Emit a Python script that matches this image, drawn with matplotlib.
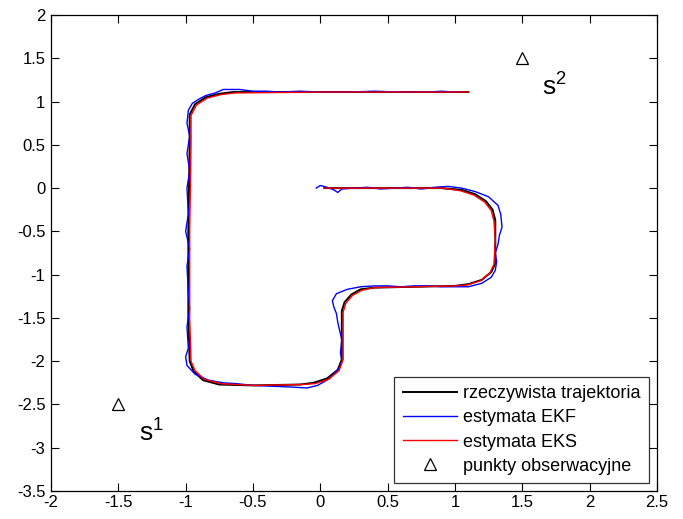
import matplotlib
matplotlib.use("Agg")
import matplotlib.pyplot as plt

plt.rcParams['font.family'] = ['Liberation Sans', 'DejaVu Sans']

# true trajectory waypoints
true_x = [0.03, 0.5, 0.9, 1.05, 1.15, 1.23, 1.28, 1.30, 1.30, 1.30, 1.27, 1.20, 1.10, 1.00, 0.70, 0.40,
          0.30, 0.23, 0.18, 0.16, 0.16, 0.16, 0.13, 0.05, -0.05, -0.15, -0.50, -0.75, -0.87, -0.94,
          -0.97, -0.98, -0.98, -0.97, -0.97, -0.93, -0.85, -0.75, -0.65, 0.0, 1.10]
true_y = [0.0, 0.0, 0.0, -0.02, -0.07, -0.15, -0.25, -0.37, -0.60, -0.87, -0.97, -1.06, -1.11, -1.13,
          -1.14, -1.15, -1.17, -1.23, -1.32, -1.42, -1.70, -1.98, -2.10, -2.20, -2.25, -2.27, -2.28,
          -2.27, -2.22, -2.12, -2.00, -1.50, -0.50, 0.50, 0.85, 0.97, 1.05, 1.09, 1.11, 1.11, 1.11]

# EKS estimate
eks_x = [0.03, 0.5, 0.9, 1.04, 1.14, 1.22, 1.27, 1.29, 1.30, 1.29, 1.26, 1.19, 1.09, 1.00, 0.70, 0.40,
         0.31, 0.24, 0.19, 0.17, 0.17, 0.17, 0.14, 0.06, -0.04, -0.15, -0.50, -0.74, -0.86, -0.93,
         -0.96, -0.97, -0.97, -0.96, -0.96, -0.92, -0.84, -0.74, -0.64, 0.0, 1.10]
eks_y = [0.0, 0.0, 0.0, -0.03, -0.08, -0.16, -0.26, -0.38, -0.60, -0.88, -0.98, -1.07, -1.12, -1.13,
         -1.14, -1.15, -1.18, -1.24, -1.33, -1.43, -1.70, -1.98, -2.11, -2.21, -2.26, -2.27, -2.28,
         -2.26, -2.21, -2.11, -2.00, -1.50, -0.50, 0.50, 0.84, 0.96, 1.04, 1.08, 1.10, 1.11, 1.11]

# EKF estimate
ekf_x = [-0.03, 0.00, 0.05, 0.10, 0.13, 0.16, 0.25, 0.35, 0.45, 0.55, 0.65, 0.75, 0.85, 0.95, 1.05,
         1.15, 1.25, 1.32, 1.34, 1.35, 1.33, 1.32, 1.30, 1.31, 1.30, 1.27, 1.20, 1.10, 1.00, 0.90,
         0.80, 0.70, 0.60, 0.50, 0.40, 0.30, 0.20, 0.12, 0.09, 0.10, 0.12, 0.13, 0.14, 0.16, 0.15,
         0.16, 0.14, 0.07, -0.02, -0.10, -0.20, -0.35, -0.50, -0.62, -0.72, -0.83, -0.93, -0.99,
         -1.00, -0.98, -0.99, -0.97, -0.98, -0.99, -0.97, -1.00, -0.98, -0.99, -0.97, -0.99, -0.97,
         -0.99, -0.98, -0.95, -0.90, -0.85, -0.78, -0.72, -0.60, -0.50, -0.40, -0.30, -0.15, 0.00,
         0.20, 0.40, 0.60, 0.80, 0.90, 1.00, 1.05]
ekf_y = [0.0, 0.03, 0.01, -0.02, -0.05, -0.01, 0.0, 0.01, -0.01, 0.0, 0.01, -0.01, 0.01, 0.02, 0.0,
         -0.04, -0.10, -0.20, -0.30, -0.45, -0.55, -0.65, -0.75, -0.85, -0.95, -1.03, -1.10, -1.14,
         -1.14, -1.14, -1.13, -1.13, -1.14, -1.13, -1.13, -1.14, -1.17, -1.22, -1.30, -1.37, -1.45,
         -1.55, -1.62, -1.75, -1.90, -2.00, -2.08, -2.20, -2.28, -2.31, -2.30, -2.29, -2.28, -2.26,
         -2.25, -2.22, -2.15, -2.05, -1.95, -1.85, -1.60, -1.40, -1.20, -0.90, -0.70, -0.50, -0.30,
         0.00, 0.20, 0.40, 0.60, 0.75, 0.90, 0.98, 1.03, 1.07, 1.10, 1.14, 1.14, 1.12, 1.12, 1.11,
         1.12, 1.11, 1.11, 1.12, 1.11, 1.11, 1.12, 1.11, 1.11]

# observation points
obs_x = [-1.5, 1.5]
obs_y = [-2.5, 1.5]
obs_labels = ['1', '2']

xticks = [-2, -1.5, -1, -0.5, 0, 0.5, 1, 1.5, 2, 2.5]
yticks = [-3.5, -3, -2.5, -2, -1.5, -1, -0.5, 0, 0.5, 1, 1.5, 2]

fig = plt.figure(figsize=(6.83, 5.19), dpi=100)
ax = fig.add_axes([0.0747, 0.054, 0.887, 0.917])

ax.plot(true_x, true_y, color='black', lw=1.4, label='rzeczywista trajektoria')
ax.plot(ekf_x, ekf_y, color='blue', lw=1.0, label='estymata EKF')
ax.plot(eks_x, eks_y, color='red', lw=1.0, label='estymata EKS')
ax.plot(obs_x, obs_y, ls='none', marker='^', mfc='none', mec='black', ms=8, mew=0.9,
        label='punkty obserwacyjne')

for x, y, lab in zip(obs_x, obs_y, obs_labels):
    ax.text(x + 0.15, y - 0.33, r'$\mathregular{s^{%s}}$' % lab, fontsize=19, ha='left', va='center')

ax.set_xlim(-2, 2.5)
ax.set_ylim(-3.5, 2)
ax.set_xticks(xticks)
ax.set_yticks(yticks)
ax.set_xticklabels([('%g' % t) for t in xticks])
ax.set_yticklabels([('%g' % t) for t in yticks])
ax.tick_params(direction='in', top=True, right=True, labelsize=12, length=6, width=0.8)
ax.tick_params(axis='x', pad=3)
ax.tick_params(axis='y', pad=4)
for s in ax.spines.values():
    s.set_linewidth(0.9)

leg = ax.legend(loc='lower right', fontsize=13, frameon=True, fancybox=False, edgecolor='black',
                borderaxespad=0.45, handlelength=3.0, labelspacing=0.4, borderpad=0.45,
                handletextpad=0.35)
leg.get_frame().set_linewidth(0.9)

fig.savefig('out.png', dpi=100)
